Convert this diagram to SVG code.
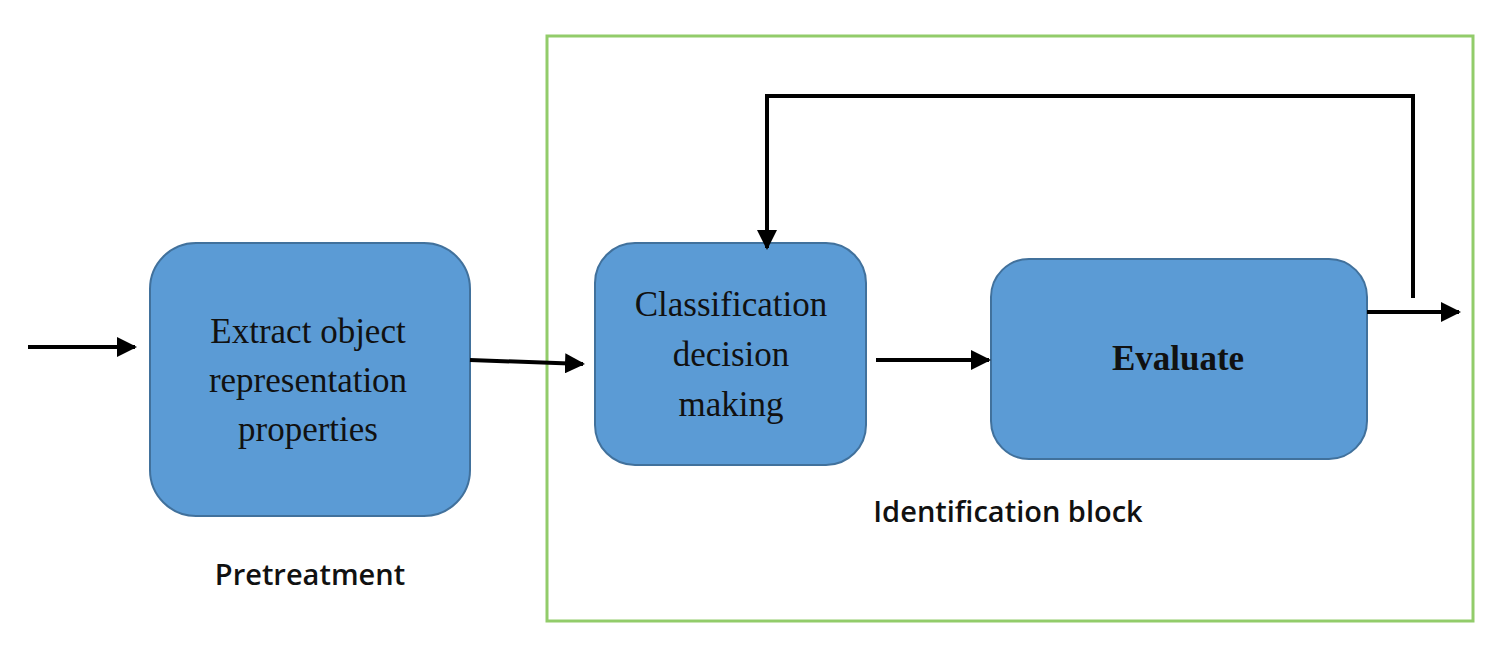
<svg xmlns="http://www.w3.org/2000/svg" width="1503" height="656" viewBox="0 0 1503 656">
<style>
.node{fill:#5B9BD5;stroke:#41719C;stroke-width:2}
.lbl{font-family:"Liberation Serif","Times New Roman",serif;font-size:35px;fill:#111;text-anchor:middle}
.cap{font-family:"Open Sans","Liberation Sans",sans-serif;font-size:29px;font-weight:600;fill:#111;text-anchor:middle}
.conn{stroke:#000;stroke-width:4;fill:none}
</style>
<defs>
<marker id="ah" viewBox="0 0 10 10" refX="9" refY="5" markerWidth="5" markerHeight="5" orient="auto" markerUnits="strokeWidth">
<path d="M0,0 L10,5 L0,10 z" fill="#000"/>
</marker>
</defs>
<rect width="1503" height="656" fill="#fff"/>
<g id="identification-block">
<rect x="547" y="36" width="926" height="585" fill="none" stroke="#92CC6A" stroke-width="3"/>
<text class="cap" x="1008" y="522">Identification block</text>
</g>
<g id="pretreatment-label">
<text class="cap" x="310" y="585">Pretreatment</text>
</g>
<g id="extract">
<rect class="node" x="150" y="243" width="320" height="273" rx="46"/>
<text class="lbl" x="308" y="343">Extract object</text>
<text class="lbl" x="308" y="392">representation</text>
<text class="lbl" x="308" y="441">properties</text>
</g>
<g id="classification">
<rect class="node" x="595" y="243" width="271" height="222" rx="40"/>
<text class="lbl" x="731" y="316">Classification</text>
<text class="lbl" x="731" y="366">decision</text>
<text class="lbl" x="731" y="416">making</text>
</g>
<g id="evaluate">
<rect class="node" x="991" y="259" width="376" height="200" rx="38"/>
<text class="lbl" x="1178" y="370" font-weight="bold">Evaluate</text>
</g>
<g id="connectors">
<line class="conn" x1="28" y1="347" x2="135" y2="347" marker-end="url(#ah)"/>
<line class="conn" x1="470" y1="360" x2="583" y2="364" marker-end="url(#ah)"/>
<line class="conn" x1="876" y1="360" x2="989" y2="360" marker-end="url(#ah)"/>
<line class="conn" x1="1367" y1="312" x2="1459" y2="312" marker-end="url(#ah)"/>
<polyline class="conn" points="1413,298 1413,96 767,96 767,248" marker-end="url(#ah)"/>
</g>
</svg>
